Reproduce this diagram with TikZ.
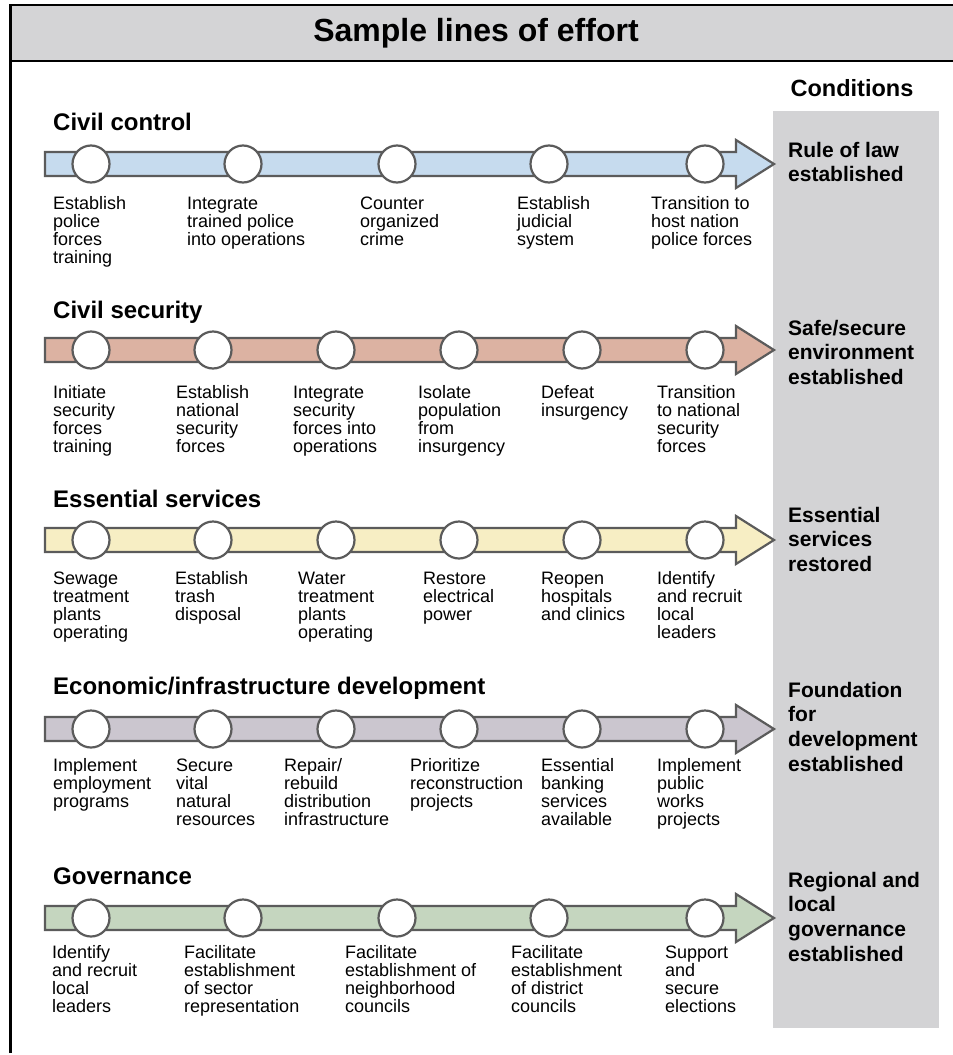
\documentclass[tikz,border=0pt]{standalone}
\usepackage{fontspec}
\setmainfont{Liberation Sans}
\definecolor{edgec}{HTML}{5B5B5B}
\definecolor{headc}{HTML}{D4D4D6}
\definecolor{condc}{HTML}{D3D3D5}
\definecolor{bluef}{HTML}{C6DBEE}
\definecolor{salmonf}{HTML}{DCB2A2}
\definecolor{yellowf}{HTML}{F7EEC4}
\definecolor{lavf}{HTML}{CBC6CF}
\definecolor{greenf}{HTML}{C5D6BF}
\tikzset{
  shaft/.style={draw=edgec, line width=2.2pt, line join=miter},
  mile/.style={circle, draw=edgec, fill=white, line width=2.2pt, minimum size=37pt, inner sep=0pt},
  lbl/.style={anchor=base west, align=left, inner sep=0pt, font=\fontsize{18}{18.3}\selectfont},
  rowtitle/.style={anchor=base west, inner sep=0pt, font=\bfseries\fontsize{24}{28}\selectfont},
  cond/.style={anchor=base west, align=left, inner sep=0pt, font=\bfseries\fontsize{21}{24.7}\selectfont},
  frameline/.style={draw=black, line width=2.7pt},
}
% arrow of one line of effort: centre y, fill colour
\newcommand{\loearrow}[2]{%
  \path[shaft, fill=#2] (45,#1-12) -- (736,#1-12) -- (736,#1-24) -- (774,#1) -- (736,#1+24) -- (736,#1+12) -- (45,#1+12) -- cycle;}
% label: name, x, first baseline, number of lines, text (base anchor = last line)
\newcommand{\loelabel}[5]{\node[lbl] (#1) at (#2,{#3+(#4-1)*18.3}) {#5};}
\newcommand{\loecond}[5]{\node[cond] (#1) at (#2,{#3+(#4-1)*24.7}) {#5};}
\begin{document}
\begin{tikzpicture}[x=1pt,y=-1pt]
\useasboundingbox (0,0) rectangle (953,1055);
\clip (0,0) rectangle (953,1055);
% frame and header
\fill[headc] (10.5,5) rectangle (990,61);
\draw[frameline] (10.5,1053) -- (10.5,5) -- (990,5);
\draw[frameline] (10.5,61) -- (990,61);
\node[font=\bfseries\fontsize{32}{36}\selectfont, inner sep=0pt] (title) at (476,33) {Sample lines of effort};
% conditions column
\fill[condc] (773,111) rectangle (939,1028);
\node[anchor=base, inner sep=0pt, font=\bfseries\fontsize{23.5}{28}\selectfont] (condhead) at (852,96) {Conditions};
\loecond{c1}{788}{157}{2}{Rule of law\\established}
\loecond{c2}{788}{335}{3}{Safe/secure\\environment\\established}
\loecond{c3}{788}{522}{3}{Essential\\services\\restored}
\loecond{c4}{788}{697}{4}{Foundation\\for\\development\\established}
\loecond{c5}{788}{887}{4}{Regional and\\local\\governance\\established}

% Row 1: Civil control
\node[rowtitle] (t1) at (53,130) {Civil control};
\loearrow{164}{bluef}
\foreach \x [count=\i] in {91,243,397,549,705} \node[mile] (m1-\i) at (\x,164) {};
\loelabel{l1-1}{53}{209}{4}{Establish\\police\\forces\\training}
\loelabel{l1-2}{187}{209}{3}{Integrate\\trained police\\into operations}
\loelabel{l1-3}{360}{209}{3}{Counter\\organized\\crime}
\loelabel{l1-4}{517}{209}{3}{Establish\\judicial\\system}
\loelabel{l1-5}{651}{209}{3}{Transition to\\host nation\\police forces}

% Row 2: Civil security
\node[rowtitle] (t2) at (53,318) {Civil security};
\loearrow{350}{salmonf}
\foreach \x [count=\i] in {91,213,336,459,582,705} \node[mile] (m2-\i) at (\x,350) {};
\loelabel{l2-1}{53}{398}{4}{Initiate\\security\\forces\\training}
\loelabel{l2-2}{176}{398}{4}{Establish\\national\\security\\forces}
\loelabel{l2-3}{293}{398}{4}{Integrate\\security\\forces into\\operations}
\loelabel{l2-4}{418}{398}{4}{Isolate\\population\\from\\insurgency}
\loelabel{l2-5}{541}{398}{2}{Defeat\\insurgency}
\loelabel{l2-6}{657}{398}{4}{Transition\\to national\\security\\forces}

% Row 3: Essential services
\node[rowtitle] (t3) at (53,507) {Essential services};
\loearrow{540}{yellowf}
\foreach \x [count=\i] in {91,213,336,459,582,705} \node[mile] (m3-\i) at (\x,540) {};
\loelabel{l3-1}{53}{584}{4}{Sewage\\treatment\\plants\\operating}
\loelabel{l3-2}{175}{584}{3}{Establish\\trash\\disposal}
\loelabel{l3-3}{298}{584}{4}{Water\\treatment\\plants\\operating}
\loelabel{l3-4}{423}{584}{3}{Restore\\electrical\\power}
\loelabel{l3-5}{541}{584}{3}{Reopen\\hospitals\\and clinics}
\loelabel{l3-6}{657}{584}{4}{Identify\\and recruit\\local\\leaders}

% Row 4: Economic/infrastructure development
\node[rowtitle] (t4) at (53,694) {Economic/infrastructure development};
\loearrow{729}{lavf}
\foreach \x [count=\i] in {91,213,336,459,582,705} \node[mile] (m4-\i) at (\x,729) {};
\loelabel{l4-1}{53}{771}{3}{Implement\\employment\\programs}
\loelabel{l4-2}{176}{771}{4}{Secure\\vital\\natural\\resources}
\loelabel{l4-3}{284}{771}{4}{Repair/\\rebuild\\distribution\\infrastructure}
\loelabel{l4-4}{410}{771}{3}{Prioritize\\reconstruction\\projects}
\loelabel{l4-5}{541}{771}{4}{Essential\\banking\\services\\available}
\loelabel{l4-6}{657}{771}{4}{Implement\\public\\works\\projects}

% Row 5: Governance
\node[rowtitle] (t5) at (53,884) {Governance};
\loearrow{918}{greenf}
\foreach \x [count=\i] in {91,243,397,549,705} \node[mile] (m5-\i) at (\x,918) {};
\loelabel{l5-1}{52}{958}{4}{Identify\\and recruit\\local\\leaders}
\loelabel{l5-2}{184}{958}{4}{Facilitate\\establishment\\of sector\\representation}
\loelabel{l5-3}{345}{958}{4}{Facilitate\\establishment of\\neighborhood\\councils}
\loelabel{l5-4}{511}{958}{4}{Facilitate\\establishment\\of district\\councils}
\loelabel{l5-5}{665}{958}{4}{Support\\and\\secure\\elections}
\end{tikzpicture}
\end{document}
